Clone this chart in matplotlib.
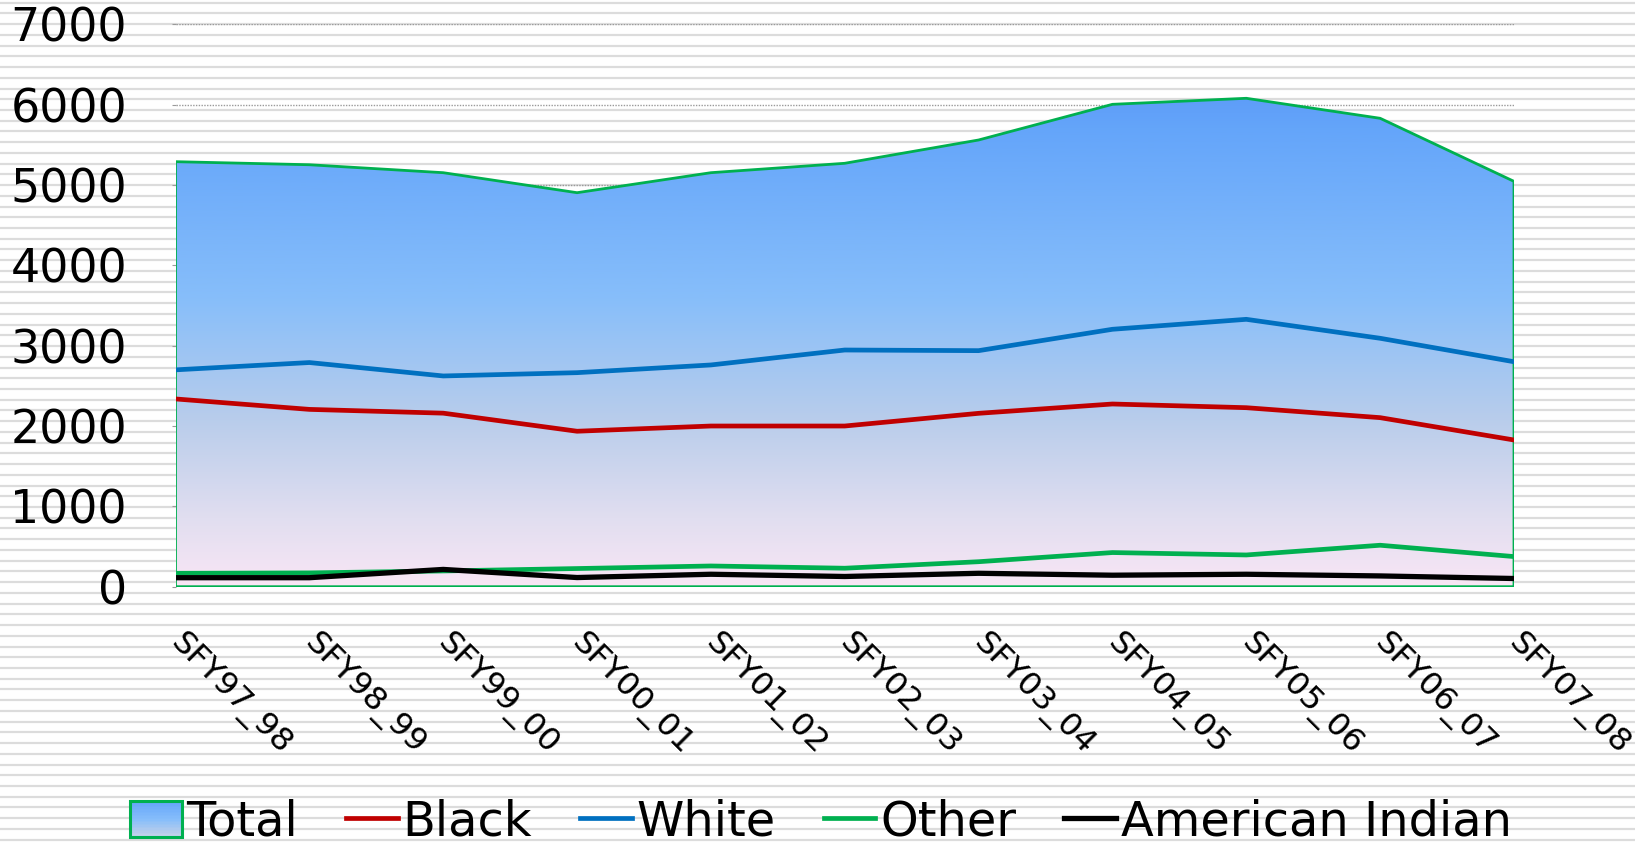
import numpy as np
import matplotlib
matplotlib.use("Agg")
import matplotlib.pyplot as plt
from matplotlib.colors import LinearSegmentedColormap
from matplotlib.patches import Polygon, Patch, Rectangle
from matplotlib.lines import Line2D
from matplotlib.legend_handler import HandlerBase
import matplotlib.transforms as mtransforms

categories = ['SFY97_98', 'SFY98_99', 'SFY99_00', 'SFY00_01', 'SFY01_02', 'SFY02_03',
              'SFY03_04', 'SFY04_05', 'SFY05_06', 'SFY06_07', 'SFY07_08']
total = [5290, 5252, 5153, 4904, 5153, 5270, 5560, 6004, 6079, 5830, 5045]
black = [2337, 2207, 2160, 1935, 2000, 2000, 2158, 2274, 2228, 2104, 1826]
white = [2699, 2790, 2623, 2664, 2760, 2946, 2938, 3204, 3328, 3092, 2800]
other = [167, 172, 196, 226, 258, 230, 311, 425, 395, 516, 375]
american_indian = [112, 112, 215, 114, 155, 127, 167, 143, 155, 134, 102]
yticks = [0, 1000, 2000, 3000, 4000, 5000, 6000, 7000]

plt.rcParams['font.family'] = ['DejaVu Sans']

W, H = 1635, 846
fig = plt.figure(figsize=(W / 100, H / 100), dpi=100)
fig.patch.set_facecolor('white')

# striped background
bg = fig.add_axes([0, 0, 1, 1], zorder=-10)
bg.set_xlim(0, W)
bg.set_ylim(H, 0)
bg.axis('off')
for yy in np.arange(2.7, H, 10.73):
    bg.axhline(yy, color='#dcdcdc', lw=1.6, zorder=0)

left, right, top, bottom = 175.5, 1514, 24.3, 586.7
ax = fig.add_axes([left / W, 1 - bottom / H, (right - left) / W, (bottom - top) / H])
ax.patch.set_alpha(0)
x = np.arange(len(categories))
ax.set_xlim(0, len(categories) - 1)
ax.set_ylim(0, 7000)

# gridlines
for v in yticks[1:]:
    ax.axhline(v, color='#9a9a9a', lw=1.0, ls=(0, (1, 1)), zorder=0)

# gradient area for Total
cmap = LinearSegmentedColormap.from_list('g', [
    (0.0, '#F9E6F5'), (0.14, '#E1DEF0'), (0.34, '#B9CDEB'),
    (0.59, '#87BEFA'), (0.94, '#64A5FA'), (1.0, '#5E9DF8')])
ymax = max(total)
grad = np.linspace(0, 1, 256).reshape(-1, 1)
im = ax.imshow(grad, extent=[0, len(categories) - 1, 0, ymax], origin='lower',
               aspect='auto', cmap=cmap, zorder=1)
verts = [(0, 0)] + list(zip(x, total)) + [(len(categories) - 1, 0)]
poly = Polygon(verts, closed=True, facecolor='none', edgecolor='#00B050', lw=2.0, zorder=2)
ax.add_patch(poly)
im.set_clip_path(poly)

ax.plot(x, black, color='#C00000', lw=3.4, zorder=3, solid_joinstyle='round')
ax.plot(x, white, color='#0070C0', lw=3.4, zorder=3, solid_joinstyle='round')
ax.plot(x, other, color='#00B050', lw=3.4, zorder=3, solid_joinstyle='round')
ax.plot(x, american_indian, color='black', lw=3.8, zorder=4, solid_joinstyle='round')

for s in ax.spines.values():
    s.set_visible(False)
ax.set_yticks(yticks)
ax.set_yticklabels([str(v) for v in yticks], fontsize=33)
ax.tick_params(axis='y', length=3, color='#9a9a9a', pad=32)
ax.set_xticks(x)
ax.set_xticklabels(categories, fontsize=23.3, rotation=-45, ha='left', va='top',
                   rotation_mode='anchor')
ax.tick_params(axis='x', length=0, pad=30)
off = mtransforms.ScaledTranslation(10 / 100, 0, fig.dpi_scale_trans)
for lab in ax.get_xticklabels():
    lab.set_transform(lab.get_transform() + off)


class GradientBoxHandler(HandlerBase):
    def create_artists(self, legend, orig_handle, xdescent, ydescent, width, height,
                       fontsize, trans):
        arts = []
        n = 24
        for i in range(n):
            frac = (i + 0.5) / n
            r = Rectangle((-xdescent, -ydescent + height * i / n), width, height / n + 0.3,
                          facecolor=cmap(0.25 + 0.7 * frac), edgecolor='none',
                          transform=trans)
            arts.append(r)
        edge = Rectangle((-xdescent, -ydescent), width, height, facecolor='none',
                         edgecolor='#00B050', lw=2.2, transform=trans)
        arts.append(edge)
        return arts


handles = [Patch(facecolor='#8FBDF6', edgecolor='#00B050', lw=2),
           Line2D([], [], color='#C00000', lw=3.4),
           Line2D([], [], color='#0070C0', lw=3.4),
           Line2D([], [], color='#00B050', lw=3.4),
           Line2D([], [], color='black', lw=3.8)]
labels = ['Total', 'Black', 'White', 'Other', 'American Indian']
fig.legend(handles, labels, loc='center', bbox_to_anchor=(0.502, 0.028), ncol=5,
           frameon=False, fontsize=34.5, handlelength=1.08, handleheight=0.78,
           handletextpad=0.1, columnspacing=1.0, borderpad=0, borderaxespad=0,
           handler_map={Patch: GradientBoxHandler()})

fig.savefig('out.png', dpi=100)
